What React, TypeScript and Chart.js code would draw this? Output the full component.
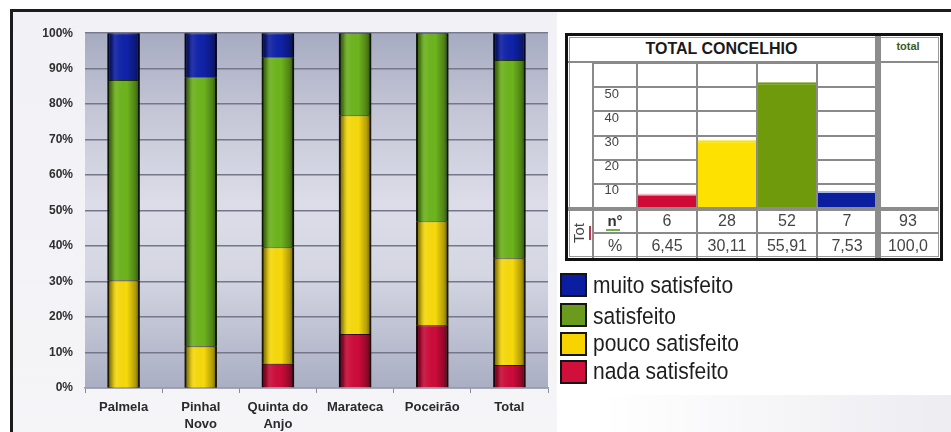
import React, { useEffect, useRef } from 'react';
import { Chart, registerables } from 'chart.js';

Chart.register(...registerables);

// ---- Main stacked chart data (percent of respondents) ----
const categories: string[][] = [['Palmela'], ['Pinhal', 'Novo'], ['Quinta do', 'Anjo'], ['Marateca'], ['Poceirão'], ['Total']];
const nadaSatisfeito = [0, 0, 6.8, 15.2, 17.7, 6.45];
const poucoSatisfeito = [30.4, 11.8, 32.9, 61.7, 29.3, 30.11];
const satisfeito = [56.4, 75.8, 53.5, 23.1, 53.0, 55.91];
const muitoSatisfeito = [13.2, 12.4, 6.8, 0, 0, 7.53];

// ---- "TOTAL CONCELHIO" table data ----
const totalCategories = ['nada satisfeito', 'pouco satisfeito', 'satisfeito', 'muito satisfeito'];
const totalCounts = [6, 28, 52, 7];
const totalPercents = ['6,45', '30,11', '55,91', '7,53'];
const totalN = '93';
const totalPct = '100,0';

// ---- Legend ----
const legendLabels = ['muito satisfeito', 'satisfeito', 'pouco satisfeito', 'nada satisfeito'];

const FONT = '"Liberation Sans", Arial, sans-serif';
const NARROW = '"Liberation Sans Narrow", "Arial Narrow", "Liberation Sans", sans-serif';

const plotBg = {
  id: 'plotBg',
  beforeDraw(chart: any) {
    const { ctx, chartArea: a } = chart;
    if (!a) return;
    const g = ctx.createLinearGradient(0, a.top, 0, a.bottom);
    g.addColorStop(0, '#a7abc1');
    g.addColorStop(0.22, '#c4c6d6');
    g.addColorStop(0.48, '#dcdde8');
    g.addColorStop(0.68, '#d4d6e2');
    g.addColorStop(1, '#aaaec3');
    ctx.save();
    ctx.fillStyle = g;
    ctx.fillRect(a.left, a.top, a.right - a.left, a.bottom - a.top);
    ctx.restore();
  },
};

const barShade = {
  id: 'barShade',
  afterDatasetsDraw(chart: any) {
    const { ctx } = chart;
    const metas = chart.getSortedVisibleDatasetMetas();
    if (!metas.length) return;
    const n = metas[0].data.length;
    for (let i = 0; i < n; i++) {
      let top = Infinity;
      let bottom = -Infinity;
      let x = 0;
      let w = 0;
      metas.forEach((m: any) => {
        const el = m.data[i];
        if (!el) return;
        const p = el.getProps(['x', 'y', 'base', 'width'], true);
        top = Math.min(top, p.y, p.base);
        bottom = Math.max(bottom, p.y, p.base);
        x = p.x;
        w = p.width;
      });
      const l = x - w / 2;
      const g = ctx.createLinearGradient(l, 0, l + w, 0);
      g.addColorStop(0, 'rgba(0,0,0,0.6)');
      g.addColorStop(0.14, 'rgba(0,0,0,0.28)');
      g.addColorStop(0.3, 'rgba(255,255,255,0.06)');
      g.addColorStop(0.6, 'rgba(0,0,0,0)');
      g.addColorStop(0.86, 'rgba(0,0,0,0.28)');
      g.addColorStop(1, 'rgba(0,0,0,0.6)');
      ctx.save();
      ctx.fillStyle = g;
      ctx.fillRect(l, top, w, bottom - top);
      ctx.restore();
    }
  },
};

export default function App() {
  const mainRef = useRef<HTMLCanvasElement>(null);
  const miniRef = useRef<HTMLCanvasElement>(null);

  useEffect(() => {
    Chart.defaults.font.family = FONT;
    const seg = { left: 2, right: 2, top: 1, bottom: 0 };
    const main = new Chart(mainRef.current as HTMLCanvasElement, {
      type: 'bar',
      data: {
        labels: categories as any,
        datasets: [
          { label: 'nada satisfeito', data: nadaSatisfeito, backgroundColor: '#cc0c3a', borderColor: '#3a0610', borderWidth: seg },
          { label: 'pouco satisfeito', data: poucoSatisfeito, backgroundColor: '#f6d90c', borderColor: '#3a3206', borderWidth: seg },
          { label: 'satisfeito', data: satisfeito, backgroundColor: '#6db41e', borderColor: '#1c3306', borderWidth: seg },
          { label: 'muito satisfeito', data: muitoSatisfeito, backgroundColor: '#1022a8', borderColor: '#050a40', borderWidth: seg },
        ],
      },
      options: {
        responsive: false,
        animation: false,
        layout: { padding: { top: 19, right: 8, left: 0, bottom: 0 } },
        datasets: { bar: { barPercentage: 0.42, categoryPercentage: 1 } },
        plugins: { legend: { display: false }, tooltip: { enabled: false } },
        scales: {
          x: {
            stacked: true,
            afterFit: (s: any) => { s.height = 44; },
            grid: { drawOnChartArea: false, drawTicks: true, tickLength: 5, color: '#8a8a9a' },
            border: { color: '#9a9cac', width: 1.5 },
            ticks: { color: '#2a2a2a', font: { family: FONT, size: 13, weight: 'bold', lineHeight: 1.3 }, padding: 6, maxRotation: 0, autoSkip: false },
          },
          y: {
            stacked: true,
            min: 0,
            max: 100,
            afterFit: (s: any) => { s.width = 71; },
            grid: { color: '#75778a', lineWidth: 1.5, drawTicks: false },
            border: { display: false },
            ticks: { stepSize: 10, padding: 12, color: '#2e2e2e', font: { family: FONT, size: 12, weight: 'bold' }, callback: (v: any) => `${v}%` },
          },
        },
      },
      plugins: [plotBg, barShade],
    } as any);

    const mini = new Chart(miniRef.current as HTMLCanvasElement, {
      type: 'bar',
      data: {
        labels: totalCategories,
        datasets: [
          {
            data: totalCounts,
            backgroundColor: ['#cf0a35', '#fde100', '#6e9a0c', '#0b1f9e'],
            borderColor: ['#f4b9c4', '#fde100', '#6e9a0c', '#a9b6ea'],
            borderWidth: { top: 2, left: 0, right: 0, bottom: 0 },
            borderSkipped: 'bottom',
          },
        ],
      },
      options: {
        responsive: false,
        animation: false,
        layout: { padding: 0 },
        datasets: { bar: { barPercentage: 0.97, categoryPercentage: 1 } },
        plugins: { legend: { display: false }, tooltip: { enabled: false } },
        scales: {
          x: { display: false },
          y: {
            min: 0,
            max: 60,
            afterFit: (s: any) => { s.width = 44; },
            grid: { color: '#8a8a8a', lineWidth: 2, drawTicks: true, tickLength: 44 },
            border: { display: false },
            ticks: {
              stepSize: 10,
              padding: -26,
              labelOffset: 7,
              color: '#444',
              font: { family: NARROW, size: 13 },
              callback: (v: any) => (v === 0 || v === 60 ? '' : String(v)),
            },
          },
        },
      },
    } as any);

    return () => {
      main.destroy();
      mini.destroy();
    };
  }, []);

  const abs = (s: React.CSSProperties): React.CSSProperties => ({ position: 'absolute', ...s });
  const gray = '#8a8a8a';
  const colEdges = [593, 637, 697, 757, 817, 877];
  const legendColors = ['#0b1ea2', '#6a9b1c', '#f7d300', '#d0103a'];
  const legendTops = [273, 303, 332, 360];
  const legendTextY = [285, 316, 343, 371];

  return (
    <div style={{ position: 'fixed', left: 0, top: 0, width: 951, height: 432, background: '#ffffff', overflow: 'hidden', fontFamily: FONT }}>
      {/* bottom-right soft shading */}
      <div style={abs({ left: 600, top: 395, width: 351, height: 37, background: 'linear-gradient(to right, rgba(255,255,255,0), rgba(232,232,238,0.8))' })} />
      {/* left panel */}
      <div style={abs({ left: 12, top: 12, width: 545, height: 420, background: 'linear-gradient(to bottom, #f1f1f6, #f5f5f8)' })} />
      {/* frame */}
      <div style={abs({ left: 10, top: 9, width: 941, height: 3, background: '#1c1c1c' })} />
      <div style={abs({ left: 10, top: 9, width: 3, height: 423, background: '#1c1c1c' })} />

      <canvas ref={mainRef} width={542} height={418} style={abs({ left: 14, top: 14, width: 542, height: 418 })} />

      {/* TOTAL CONCELHIO table */}
      <div style={abs({ left: 565, top: 33, width: 378, height: 228, border: '3px solid #111', boxSizing: 'border-box', background: '#fff', boxShadow: 'inset 0 0 0 1px #fff, inset 0 0 0 2px #9a9a9a' })} />
      <canvas ref={miniRef} width={284} height={145} style={abs({ left: 593, top: 63, width: 284, height: 145 })} />
      {/* header */}
      <div style={abs({ left: 568, top: 36, width: 307, height: 26, lineHeight: '26px', textAlign: 'center', fontWeight: 'bold', fontSize: 16, color: '#1a1a1a' })}>TOTAL CONCELHIO</div>
      <div style={abs({ left: 881, top: 36, width: 54, height: 20, lineHeight: '20px', textAlign: 'center', fontWeight: 'bold', fontSize: 11, color: '#3b5a23' })}>total</div>
      <div style={abs({ left: 568, top: 61, width: 371, height: 2, background: gray })} />
      {/* vertical column lines */}
      {colEdges.slice(0, 5).map((x, i) => (
        <div key={'v' + i} style={abs({ left: x - 1, top: 63, width: 2, height: 195, background: gray })} />
      ))}
      <div style={abs({ left: 875, top: 36, width: 6, height: 222, background: '#8c8c8c' })} />
      {/* separators */}
      <div style={abs({ left: 568, top: 207, width: 371, height: 4, background: '#8c8c8c' })} />
      <div style={abs({ left: 593, top: 232, width: 346, height: 2, background: gray })} />
      {/* Tot label */}
      <div style={abs({ left: 560, top: 224, width: 38, height: 18, lineHeight: '18px', textAlign: 'center', fontSize: 15, color: '#444', transform: 'rotate(-90deg)' })}>Tot</div>
      <div style={abs({ left: 589, top: 226, width: 2, height: 14, background: '#c0354a' })} />
      {/* row headers */}
      <div style={abs({ left: 593, top: 209, width: 44, height: 23, lineHeight: '23px', textAlign: 'center', fontSize: 15, fontWeight: 'bold', color: '#333' })}>n°</div>
      <div style={abs({ left: 606, top: 229, width: 14, height: 1.5, background: '#6fae4a' })} />
      <div style={abs({ left: 593, top: 234, width: 44, height: 24, lineHeight: '24px', textAlign: 'center', fontSize: 16, color: '#444' })}>%</div>
      {/* values */}
      {totalCounts.map((v, i) => (
        <div key={'n' + i} style={abs({ left: colEdges[i + 1], top: 210, width: 60, height: 22, lineHeight: '22px', textAlign: 'center', fontSize: 16, color: '#444' })}>{v}</div>
      ))}
      {totalPercents.map((v, i) => (
        <div key={'p' + i} style={abs({ left: colEdges[i + 1], top: 234, width: 60, height: 24, lineHeight: '24px', textAlign: 'center', fontSize: 16, color: '#444' })}>{v}</div>
      ))}
      <div style={abs({ left: 881, top: 210, width: 54, height: 22, lineHeight: '22px', textAlign: 'center', fontSize: 16, color: '#444' })}>{totalN}</div>
      <div style={abs({ left: 881, top: 234, width: 54, height: 24, lineHeight: '24px', textAlign: 'center', fontSize: 16, color: '#444' })}>{totalPct}</div>

      {/* legend */}
      {legendLabels.map((lab, i) => (
        <React.Fragment key={'l' + i}>
          <div style={abs({ left: 560, top: legendTops[i], width: 27, height: 24, boxSizing: 'border-box', border: '2px solid #151515', background: legendColors[i] })} />
          <div style={abs({ left: 593, top: legendTextY[i] - 12, height: 24, lineHeight: '24px', fontSize: 21, color: '#1e1e1e', whiteSpace: 'nowrap', transform: 'scaleY(1.18)', transformOrigin: 'left center' })}>{lab}</div>
        </React.Fragment>
      ))}
    </div>
  );
}
